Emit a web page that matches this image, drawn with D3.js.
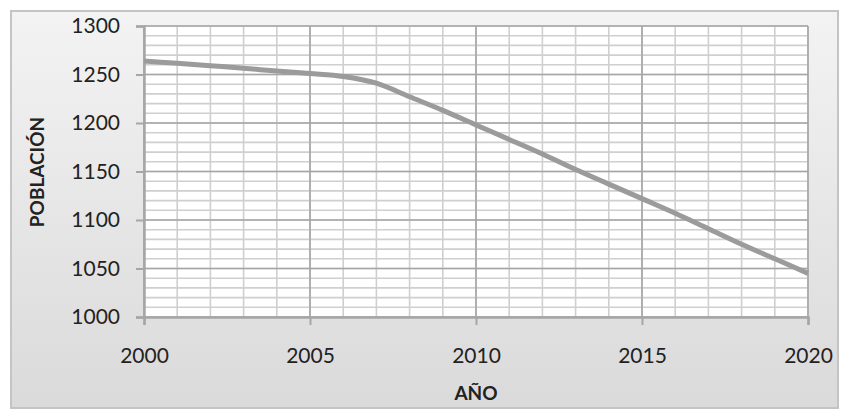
<!DOCTYPE html>
<html>
<head>
<meta charset="utf-8">
<script src="https://cdn.jsdelivr.net/npm/d3@7"></script>
<style>
  body { margin: 0; background: #fff; }
  svg { display: block; font-family: Lato, "Open Sans", sans-serif; }
</style>
</head>
<body>
<svg width="841" height="411"></svg>
<script>
var width = 841,
    height = 411;

// data
var years = [2000, 2001, 2002, 2003, 2004, 2005, 2006, 2007, 2008, 2009, 2010,
             2011, 2012, 2013, 2014, 2015, 2016, 2017, 2018, 2019, 2020];
var poblacion = [1264, 1261.5, 1259, 1256.5, 1253.5, 1251, 1248, 1241, 1227, 1213, 1198,
                 1183, 1168, 1152, 1137, 1122, 1107, 1091, 1075, 1060, 1045];
var xTicks = [2000, 2005, 2010, 2015, 2020];
var yTicks = [1000, 1050, 1100, 1150, 1200, 1250, 1300];

var plot = {left: 144, right: 808, top: 26, bottom: 317};

var svg = d3.select("svg");

// chart area background
var grad = svg.append("defs").append("linearGradient")
    .attr("id", "bg")
    .attr("x1", 0).attr("y1", 0).attr("x2", 0).attr("y2", 1);
grad.append("stop").attr("offset", "0%").attr("stop-color", "#f3f3f3");
grad.append("stop").attr("offset", "100%").attr("stop-color", "#dadada");

svg.append("rect")
    .attr("x", 11).attr("y", 11)
    .attr("width", 827).attr("height", 397)
    .style("fill", "url(#bg)")
    .style("stroke", "#c4c4c4")
    .style("stroke-width", 2);

var x = d3.scaleLinear().domain([2000, 2020]).range([plot.left, plot.right]);
var y = d3.scaleLinear().domain([1000, 1300]).range([plot.bottom, plot.top]);

svg.append("rect")
    .attr("x", plot.left).attr("y", plot.top)
    .attr("width", plot.right - plot.left).attr("height", plot.bottom - plot.top)
    .style("fill", "#fff");

// minor grid
var g = svg.append("g");
g.selectAll("line.vminor")
    .data(d3.range(2000, 2021, 1))
    .enter().append("line")
    .attr("x1", d => x(d)).attr("x2", d => x(d))
    .attr("y1", plot.top).attr("y2", plot.bottom)
    .style("stroke", "#cfcfcf").style("stroke-width", 1.6);
g.selectAll("line.hminor")
    .data(d3.range(1000, 1301, 10))
    .enter().append("line")
    .attr("y1", d => y(d)).attr("y2", d => y(d))
    .attr("x1", plot.left).attr("x2", plot.right)
    .style("stroke", "#cfcfcf").style("stroke-width", 1.6);

// major grid
g.selectAll("line.vmajor")
    .data(xTicks)
    .enter().append("line")
    .attr("x1", d => x(d)).attr("x2", d => x(d))
    .attr("y1", plot.top).attr("y2", plot.bottom)
    .style("stroke", "#a6a6a6").style("stroke-width", 1.6);
g.selectAll("line.hmajor")
    .data(yTicks)
    .enter().append("line")
    .attr("y1", d => y(d)).attr("y2", d => y(d))
    .attr("x1", plot.left).attr("x2", plot.right)
    .style("stroke", "#a6a6a6").style("stroke-width", 1.6);

// axes
var yAxis = svg.append("g")
    .attr("transform", "translate(" + plot.left + ",0)")
    .call(d3.axisLeft(y).tickValues(yTicks).tickSize(8).tickPadding(16).tickFormat(d3.format("d")));
var xAxis = svg.append("g")
    .attr("transform", "translate(0," + plot.bottom + ")")
    .call(d3.axisBottom(x).tickValues(xTicks).tickSize(8).tickPadding(23).tickFormat(d3.format("d")));

[yAxis, xAxis].forEach(function (a) {
    a.select(".domain").style("stroke", "#a6a6a6").style("stroke-width", 2.5);
    a.selectAll(".tick line").style("stroke", "#a6a6a6").style("stroke-width", 2);
    a.selectAll("text").style("font-size", "21px").style("fill", "#222")
        .style("font-family", "Lato, 'Open Sans', sans-serif");
});

// line
var line = d3.line()
    .x((d, i) => x(years[i]))
    .y(d => y(d))
    .curve(d3.curveMonotoneX);

svg.append("path")
    .datum(poblacion)
    .attr("d", line)
    .style("fill", "none")
    .style("stroke", "#9b9b9b")
    .style("stroke-width", 5)
    .style("stroke-linecap", "butt");

// axis titles
svg.append("text")
    .attr("transform", "translate(44,172) rotate(-90)")
    .attr("text-anchor", "middle")
    .style("font-size", "19px").style("font-weight", "bold").style("fill", "#222")
    .text("POBLACIÓN");

svg.append("text")
    .attr("x", 476).attr("y", 400)
    .attr("text-anchor", "middle")
    .style("font-size", "19px").style("font-weight", "bold").style("fill", "#222")
    .text("AÑO");
</script>
</body>
</html>
